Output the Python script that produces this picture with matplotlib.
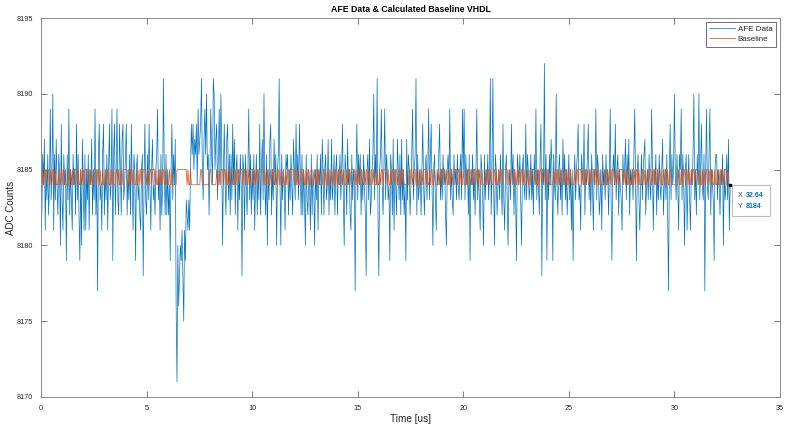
import numpy as np
import matplotlib
matplotlib.use("Agg")
import matplotlib.pyplot as plt
from matplotlib.offsetbox import TextArea, HPacker, VPacker, AnnotationBbox

plt.rcParams['font.family'] = ['Liberation Sans', 'DejaVu Sans']

# ADC samples, stored as offset from 8184 counts, one row per microsecond (25 samples @ 40 ns)
adc_ref = 8184
afe_offsets = [
    1, -2, 2, 0, 3, -3, 1, -1, 2, -2, 0, 5, -1, 1, 6, -3, 2, -1, 3, 0, -2, 2, 1, -4, 4,
    -1, -3, 2, 0, 1, -5, 2, -1, 5, -2, 1, -1, -3, 2, 0, 1, -2, 4, -1, 2, -2, -5, 1, -4, 3,
    0, -3, 2, -3, 1, -1, 2, -3, 1, 0, 3, -2, 1, -1, 5, -2, 1, -7, 2, 4, -1, 0, -3, 2, 4,
    -2, 1, -1, 2, -3, 1, 4, -1, 0, 5, -5, 2, 4, -2, 1, 5, -1, -2, 4, 1, -2, 3, 4, -1, 0,
    2, 4, -2, 1, -1, 2, -2, 4, 0, -3, 2, 1, -5, 1, 2, -1, 0, -2, -3, 1, 2, -6, 0, 4, -1,
    -2, 2, -1, 4, 0, -3, 1, 3, -1, 0, -2, 1, 2, 5, -1, 1, -3, 2, -2, 0, 7, 1, -2, 2, -2,
    1, -2, 0, -5, 1, 4, -1, 2, 0, 3, -8, -13, -4, -8, -6, -4, -5, -3, -6, -9, -3, -5, -1, -2, -3,
    -1, -3, 1, 4, 2, 4, 1, 3, 2, 4, 0, 5, 2, 3, 4, 7, 1, -1, 3, 5, 2, 6, 1, 2, -2,
    1, 5, 2, 0, 7, 6, 1, 3, 4, -1, 2, 5, 0, 6, 2, -4, 1, 4, 0, -2, 3, 4, -1, 2, -2,
    2, -1, 4, 0, 3, -2, 1, 2, -3, 1, -1, 2, 0, -6, 2, 1, -3, 2, 0, -2, 1, 5, -1, 2, -2,
    1, -1, 2, -3, 0, 2, -2, 1, -1, 4, -2, 1, 3, -1, 6, 0, -2, 2, -4, 1, -1, 3, 4, -2, 1,
    -1, 3, 0, 2, -4, 1, 2, 7, 0, -4, 2, -1, 1, 0, -3, 2, 1, 2, -2, 1, -1, 2, 0, -2, 3,
    1, -1, 4, 0, 2, -1, 4, 1, -2, 2, -2, 1, -1, -4, 2, -1, -2, 1, 0, -3, 2, -2, 1, 0, -4,
    1, -1, 2, -3, 1, 0, 2, -2, 3, 1, -2, 1, 2, -1, 0, 3, -2, 1, -1, 3, -1, 0, 2, -2, 1,
    2, -2, 1, 0, 2, -1, 1, 4, -1, -4, 2, 1, -2, 3, 0, 1, -2, -3, 2, -1, 1, 0, -7, 1, 4,
    -1, 2, 0, 2, -2, 1, -1, 2, 0, -2, -6, 1, 2, -1, 3, -2, -1, 1, 2, 6, -1, 2, 0, 7, -2,
    -6, 1, 2, 5, 0, -2, 1, 5, -1, 2, 1, -1, 0, -5, 2, 1, -2, 3, -3, 1, 0, -2, 3, 1, -1,
    2, -2, 3, -1, 1, -2, 0, -5, 3, -1, 2, 1, -2, 0, 2, 5, -1, 1, 2, 7, -2, 2, -1, 0, 1,
    -2, 1, 4, 0, -2, 1, 2, -1, 1, 5, -1, 2, 4, 0, -4, 1, 2, -1, -3, 1, 0, 2, 4, -1, 1,
    -1, 2, 0, 1, -2, -4, 1, 2, 0, 5, -1, 1, -1, -2, 2, 0, 1, -1, 2, 0, -1, 1, 2, -1, 5,
    1, 5, -1, 2, 0, 1, -2, 2, -5, 1, 0, 2, -1, 1, -2, 1, 5, -1, 1, -1, -3, 2, 1, -1, -4,
    2, -1, 1, 0, 2, -1, 1, 7, -2, 1, 7, 0, -4, 2, 1, -2, 0, 1, -1, 2, 0, -2, 4, -1, -3,
    1, 2, -1, -4, 0, 1, -1, 4, 0, 2, -2, 1, -1, -5, 2, 1, 0, 2, -1, -4, 1, 2, 0, -1, 4,
    -1, 2, 1, -1, 0, 2, -1, 1, -2, 2, 0, 5, -1, 1, 0, -2, 2, 4, -6, 1, 0, 8, -1, 2, -5,
    1, -1, 2, 0, 3, 1, -5, 2, 0, -1, 6, 0, -2, 1, 2, -1, 1, -2, 3, 0, 2, -1, 1, -2, 0,
    2, -1, 1, -3, 1, -5, 0, 2, -1, 1, 2, 4, -1, 0, -3, 2, 1, 0, 4, -2, 1, 0, 2, 4, -1,
    1, -2, 2, 0, -3, 1, 0, 5, -1, 2, 1, -2, -1, 1, -3, 2, 0, 1, -1, 2, 0, 1, -2, 1, 5,
    -1, -5, 1, 2, 0, 4, -1, 1, 2, -2, 1, 0, -1, -3, 2, 0, 1, 3, -1, 2, 0, 3, -2, 1, 0,
    1, -1, 2, 5, 0, -5, 1, 2, -1, -3, 0, 2, -1, 1, 2, 3, -2, 0, 1, -1, 2, 0, -1, 5, 1,
    -3, 1, 0, 2, -2, 1, -1, 2, 0, -1, 1, 3, -2, 0, 1, -1, 2, -2, -7, 1, 4, -1, 2, 0, 1,
    6, 1, -1, 2, 0, -3, 2, 1, 5, -1, 2, 0, -4, 1, 2, -3, 0, 2, -1, -3, 1, 0, 2, 6, -1,
    1, -2, 2, 0, 6, -1, 1, 4, 0, -1, 2, -7, 1, 5, 0, -1, 2, 5, -2, 1, 0, -1, -5, 1, 2,
    2, -1, 1, 0, -2, 1, 0, 2, -4, 1, -1, 0, 2, -1, 3, -3, 0,
]

# baseline output toggles between 8184 and 8185; run lengths in samples, starting at 8184
baseline_levels = [8184, 8185]
baseline_runs = [
    2, 1, 1, 2, 1, 3, 1, 1, 2, 2, 1, 1, 3, 1, 2, 1, 1, 2, 4, 1,
    1, 2, 1, 1, 2, 3, 1, 1, 2, 1, 1, 2, 1, 4, 2, 1, 1, 1, 2, 3,
    1, 2, 1, 1, 2, 1, 3, 1, 1, 2, 2, 1, 1, 1, 3, 2, 1, 1, 2, 1,
    1, 5, 2, 1, 1, 2, 1, 1, 3, 1, 2, 1, 1, 2, 1, 4, 1, 1, 2, 2,
    1, 3, 1, 1, 2, 1, 2, 1, 1, 2, 2, 1, 3, 1, 2, 1, 5, 12, 1, 1,
    2, 1, 11, 2, 9, 2, 6,
    1, 2, 1, 1, 3, 1, 2, 1, 1, 2, 1, 1, 2, 3, 1, 1, 2, 1, 4, 1,
    2, 1, 1, 2, 1, 1, 3, 2, 1, 1, 2, 1, 6, 1, 1, 2, 1, 3, 1, 1,
    2, 2, 1, 1, 2, 1, 1, 3, 1, 2, 1, 1, 2, 1, 5, 1, 2, 1, 1, 2,
    3, 1, 1, 2, 1, 1, 2, 2, 1, 3, 1, 1, 2, 1, 1, 4, 2, 1, 1, 2,
    1, 3, 1, 1, 2, 1, 2, 1, 1, 2, 2, 1, 1, 3, 1, 1, 2, 1, 5, 1,
    1, 2, 1, 1, 2, 3, 1, 1, 2, 1, 1, 2, 2, 1, 1, 3, 1, 2, 1, 1,
    2, 1, 4, 1, 1, 2, 1, 1, 3, 1, 2, 1, 1, 2, 1, 1, 2, 6, 1, 1,
    2, 1, 3, 1, 1, 2, 1, 2, 1, 1, 3, 1, 1, 2, 1, 1, 2, 2, 1, 4,
    1, 1, 2, 1, 3, 1, 1, 2, 1, 2, 1, 1, 5, 1, 2, 1, 1, 2, 1, 3,
    1, 1, 2, 2, 1, 1, 3, 1, 2, 1, 1, 2, 1, 4, 1, 1, 2, 1, 1, 3,
    2, 1, 1, 2, 1, 1, 2, 1, 6, 1, 1, 2, 3, 1, 1, 2, 1, 1, 2, 1,
    2, 1, 1, 3, 1, 2, 1, 1, 4, 1, 1, 2, 1, 1, 2, 1, 3, 1, 1, 2,
    1, 5, 1, 1, 2, 1, 2, 1, 1, 3, 1, 1, 2, 1, 1, 2, 1, 4, 1, 1,
    2, 1, 3, 1, 1, 2, 1, 1, 2, 2, 1, 1, 3, 1, 2, 1, 1, 2, 1, 5,
    1, 2, 1, 1, 2, 1, 3, 1, 1, 2, 1, 1, 4, 1, 2, 1, 1, 2, 1, 3,
    1, 2, 1, 1, 2, 1, 1, 3, 2, 1, 1, 2, 1, 1, 3, 1, 2, 1, 1, 2,
    1, 1, 2, 3, 1, 1, 2, 1, 1, 2, 2, 8,
    1, 2, 1, 1, 3, 1, 2, 1, 1, 2, 1, 1, 2, 1, 4, 1, 1, 2, 1, 2,
    1, 1, 3, 1, 2, 1, 1, 2, 1, 2, 1, 2, 1, 1, 2, 1, 3, 1, 1, 3,
]

dt = 0.04  # us per sample
afe = adc_ref + np.array(afe_offsets)
t = np.arange(len(afe)) * dt

levels = np.array([baseline_levels[i % 2] for i in range(len(baseline_runs))])
baseline = np.repeat(levels, baseline_runs)
if len(baseline) < len(afe):
    baseline = np.concatenate([baseline, np.full(len(afe) - len(baseline), baseline[-1])])
baseline = baseline[:len(afe)]

blue = '#0072BD'
orange = '#D95319'
axis_col = '#262626'

fig = plt.figure(figsize=(7.87, 4.24), dpi=100, facecolor='white')
ax = fig.add_axes([0.0521, 0.0637, 0.9390, 0.8938])

ax.plot(t, afe, color=blue, lw=0.5, label='AFE Data')
ax.plot(t, baseline, color=orange, lw=0.5, label='Baseline')

ax.set_xlim(0, 35)
ax.set_ylim(8170, 8195)
ax.set_xticks(np.arange(0, 36, 5))
ax.set_yticks(np.arange(8170, 8196, 5))
ax.tick_params(direction='in', top=True, right=True, length=4.5, width=0.6,
               labelsize=5.2, colors='#666666', labelcolor=axis_col, pad=5.5)
for sp in ax.spines.values():
    sp.set_color('#8c8c8c')
    sp.set_linewidth(0.7)

ax.set_title('AFE Data & Calculated Baseline VHDL', fontsize=6.3, fontweight='bold',
             color='black', pad=4)
ax.set_xlabel('Time [us]', fontsize=7.2, color=axis_col, labelpad=1.5)
ax.set_ylabel('ADC Counts', fontsize=7, color=axis_col, labelpad=0.5)

leg = ax.legend(loc='upper right', fontsize=5.8, handlelength=3.2, handletextpad=0.3,
                borderpad=0.45, labelspacing=0.25, borderaxespad=0.5,
                fancybox=False, framealpha=1)
leg.get_frame().set_edgecolor('#595959')
leg.get_frame().set_linewidth(0.6)
for txt in leg.get_texts():
    txt.set_color(axis_col)

# data tip on the last baseline sample
tip_x, tip_y = t[-1], baseline[-1]
ax.plot([tip_x], [tip_y], marker='s', ms=2, color='black', zorder=5)

def tip_row(name, val):
    return HPacker(children=[
        TextArea(name, textprops=dict(color='#404040', size=5)),
        TextArea(val, textprops=dict(color=blue, size=5, weight='bold')),
    ], sep=2.5, align='baseline')

tip_box = VPacker(children=[tip_row('X', f'{tip_x:.2f}'), tip_row('Y', f'{tip_y:d}')],
                  sep=3, align='left')
ab = AnnotationBbox(tip_box, (tip_x, tip_y), xybox=(5.5, -5), xycoords='data',
                    boxcoords='offset points', box_alignment=(0, 1), pad=0.45,
                    bboxprops=dict(edgecolor='#bfbfbf', facecolor='white', lw=0.8))
ax.add_artist(ab)

fig.savefig('out.png', dpi=100, facecolor='white')
